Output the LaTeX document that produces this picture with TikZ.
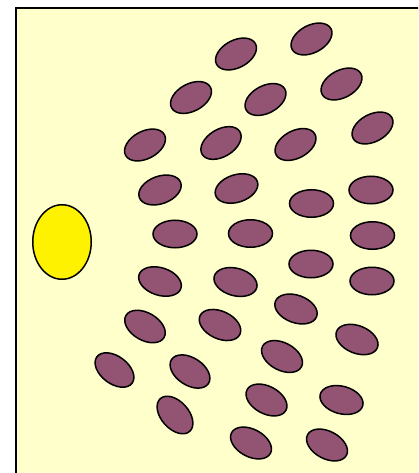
\documentclass[tikz,border=0pt]{standalone}
\usetikzlibrary{shapes.geometric}
\definecolor{bgyellow}{RGB}{255,255,204}
\definecolor{blobpurple}{RGB}{147,83,115}
\tikzset{
  blob/.style={ellipse, draw=black, line width=1.5pt, fill=blobpurple, inner sep=0pt, minimum width=44pt, minimum height=27.5pt},
  sun/.style={ellipse, draw=black, line width=1.5pt, fill=yellow, inner sep=0pt, minimum width=58.5pt, minimum height=74.5pt}
}
\begin{document}
\begin{tikzpicture}[x=1pt,y=-1pt]
\useasboundingbox (0,0) rectangle (418,473);
\begin{scope}
\clip (0,0) rectangle (418,473);
\draw[line width=2pt, fill=bgyellow] (16,8) rectangle (430,490);
\end{scope}
\node[sun] (s) at (62,242) {};
\node[blob, rotate=28] (e1) at (236,54) {};
\node[blob, rotate=28] (e2) at (311.5,39) {};
\node[blob, rotate=28] (e3) at (191,97.5) {};
\node[blob, rotate=28] (e4) at (265.5,99.5) {};
\node[blob, rotate=28] (e5) at (341.5,84) {};
\node[blob, rotate=28] (e6) at (145,145) {};
\node[blob, rotate=31] (e7) at (221,143) {};
\node[blob, rotate=28] (e8) at (295.5,144.5) {};
\node[blob, rotate=28] (e9) at (372.5,128) {};
\node[blob, rotate=20] (e10) at (160,190) {};
\node[blob, rotate=18] (e11) at (236.5,188.5) {};
\node[blob] (e12) at (311.5,203.5) {};
\node[blob] (e13) at (371,190) {};
\node[blob] (e14) at (175,234) {};
\node[blob] (e15) at (250.5,233.5) {};
\node[blob] (e16) at (372.5,235.5) {};
\node[blob, rotate=-18] (e17) at (160,281.5) {};
\node[blob, rotate=-15] (e18) at (235.5,282) {};
\node[blob] (e19) at (311,264) {};
\node[blob] (e20) at (372,281) {};
\node[blob, rotate=-30] (e21) at (145,326.5) {};
\node[blob, rotate=-25] (e22) at (220,325) {};
\node[blob, rotate=-20] (e23) at (296,309) {};
\node[blob, rotate=-22] (e24) at (357,339.5) {};
\node[blob, rotate=-37] (e25) at (114.5,370) {};
\node[blob, rotate=-33] (e26) at (190,371.5) {};
\node[blob, rotate=-28] (e27) at (282,356.5) {};
\node[blob, rotate=-48] (e28) at (175,415) {};
\node[blob, rotate=-28] (e29) at (266.5,400) {};
\node[blob, rotate=-15] (e30) at (341.5,400) {};
\node[blob, rotate=-28] (e31) at (251,443) {};
\node[blob, rotate=-28] (e32) at (327,445) {};
\end{tikzpicture}
\end{document}
